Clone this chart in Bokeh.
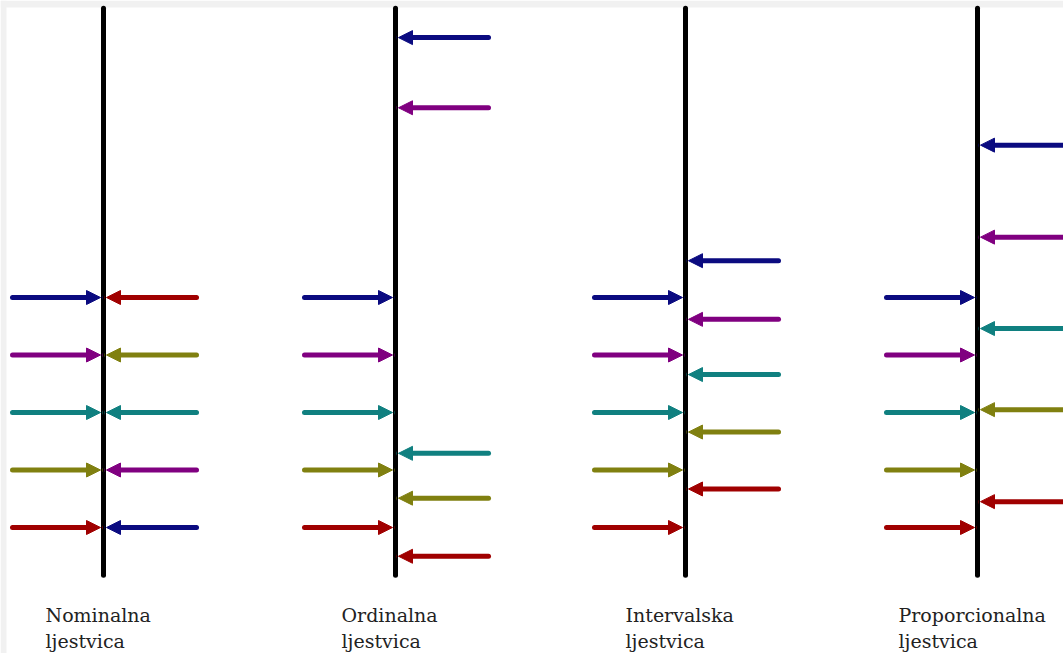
from bokeh.plotting import figure
from bokeh.models import Range1d, Arrow, NormalHead, ColumnDataSource, BoxAnnotation
from bokeh.core.properties import value
from bokeh.embed import file_html
from bokeh.resources import INLINE

# --- data ---
scale_names = ["Nominalna", "Ordinalna", "Intervalska", "Proporcionalna"]
scale_word2 = ["ljestvica", "ljestvica", "ljestvica", "ljestvica"]
scale_x = [103, 395, 685, 977]          # horizontal position of each scale line
label_x = [45, 341, 625, 898]           # left edge of each caption

colors = ["#0b0b80", "#800080", "#108080", "#808010", "#a00000"]  # navy, purple, teal, olive, red

# left arrows: same levels for every scale (navy top ... red bottom)
left_levels = [4.0, 3.0, 2.0, 1.0, 0.0]

# right arrows: level of each colour (navy, purple, teal, olive, red) per scale
right_nominal = [0.0, 1.0, 2.0, 3.0, 4.0]
right_ordinal = [8.52, 7.30, 1.29, 0.51, -0.50]
right_interval = [4.64, 3.62, 2.66, 1.66, 0.67]
right_ratio = [6.65, 5.05, 3.46, 2.05, 0.45]
right_levels = [right_nominal, right_ordinal, right_interval, right_ratio]

line_bottom = -0.83
line_top = 9.03
label_level = -1.53

W, H = 1063, 653
p = figure(width=W, height=H, output_backend="svg", toolbar_location=None,
           x_range=Range1d(0, 1063), y_range=Range1d((527 - 653) / 57.5, 527 / 57.5),
           min_border=0, outline_line_color=None)
p.axis.visible = False
p.grid.visible = False
p.background_fill_color = "white"
p.border_fill_color = "white"

# light grey frame strips (top and left) of the original image
p.add_layout(BoxAnnotation(bottom=(527 - 7) / 57.5, fill_color="#f1f1f1", fill_alpha=1,
                           line_color=None, level="underlay"))
p.add_layout(BoxAnnotation(right=6, fill_color="#f1f1f1", fill_alpha=1,
                           line_color=None, level="underlay"))

# vertical scale lines
p.segment(x0=scale_x, y0=[line_bottom] * 4, x1=scale_x, y1=[line_top] * 4,
          line_color="black", line_width=5, line_cap="round")

for i, sx in enumerate(scale_x):
    # left arrows pointing right to the line
    for lev, c in zip(left_levels, colors):
        p.add_layout(Arrow(x_start=sx - 91, y_start=lev, x_end=sx - 3, y_end=lev,
                           line_color=c, line_width=5, line_cap="round",
                           end=NormalHead(size=14, fill_color=c, line_color=c, line_width=1)))
    # right arrows pointing left to the line
    for lev, c in zip(right_levels[i], colors):
        p.add_layout(Arrow(x_start=sx + 93, y_start=lev, x_end=sx + 3, y_end=lev,
                           line_color=c, line_width=5, line_cap="round",
                           end=NormalHead(size=14, fill_color=c, line_color=c, line_width=1)))

src = ColumnDataSource(dict(x=label_x, y=[label_level] * 4, t1=scale_names, t2=scale_word2))
p.text(x="x", y="y", text="t1", source=src, text_font=value("DejaVu Serif"),
       text_font_size="19px", text_color="#222222", text_baseline="alphabetic")
p.text(x="x", y="y", text="t2", source=src, text_font=value("DejaVu Serif"),
       text_font_size="19px", text_color="#222222", text_baseline="alphabetic", y_offset=26)

open("out.html", "w").write(file_html(p, INLINE))
